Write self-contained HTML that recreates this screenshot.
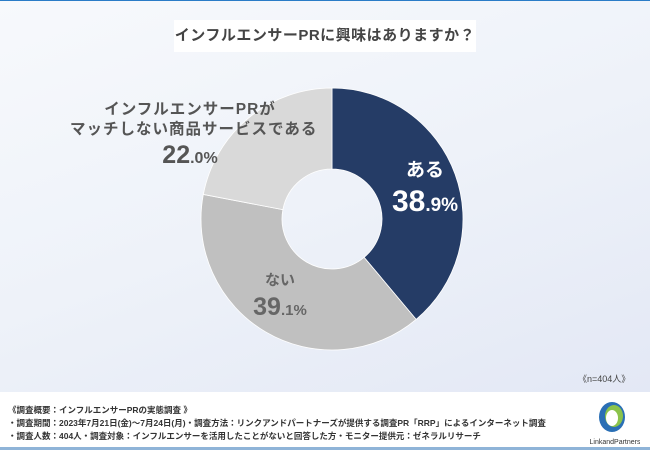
<!DOCTYPE html>
<html><head><meta charset="utf-8"><style>
html,body{margin:0;padding:0}
body{width:650px;height:450px;overflow:hidden;position:relative;font-family:"Liberation Sans","Noto Sans CJK JP",sans-serif;background:#fff}
#top{position:absolute;left:0;top:0;width:650px;height:392px;background:linear-gradient(160deg,#f7f9fc 0%,#eef2f9 50%,#e3e8f5 100%);border-top:1px solid #2a7cc7;box-sizing:border-box}
.t{position:absolute;white-space:nowrap}
</style></head><body>
<div id="top"></div>
<div class="t" style="left:174px;top:20px;width:302px;height:32px;background:#fff;text-align:center;line-height:32px;font-size:15px;font-weight:bold;color:#444;letter-spacing:0.5px">インフルエンサーPRに興味はありますか？</div>
<svg id="pie" width="650" height="450" style="position:absolute;left:0;top:0"></svg>
<div class="t" style="left:70px;top:100px;width:240px;text-align:center;font-size:15.5px;font-weight:bold;color:#555;line-height:20px;letter-spacing:1px">インフルエンサーPRが<br>マッチしない商品サービスである<br><span style="font-size:25px;line-height:30px;letter-spacing:0">22</span><span style="font-size:16px;letter-spacing:0">.0%</span></div>
<div class="t" style="left:370px;top:156px;width:110px;text-align:center;color:#fff;font-weight:bold;line-height:30px"><span style="font-size:19px">ある</span><br><span style="font-size:30px">38</span><span style="font-size:19px">.9%</span></div>
<div class="t" style="left:235px;top:268px;width:90px;text-align:center;color:#666;font-weight:bold;line-height:26px"><span style="font-size:15px">ない</span><br><span style="font-size:25px">39</span><span style="font-size:15px">.1%</span></div>
<div class="t" style="left:578px;top:372px;font-size:9px;color:#444">《n=404人》</div>
<div class="t" style="left:8px;top:404px;font-size:8.5px;color:#333;line-height:13px;font-weight:bold">《調査概要：インフルエンサーPRの実態調査 》<br>・調査期間：2023年7月21日(金)～7月24日(月)・調査方法：リンクアンドパートナーズが提供する調査PR「RRP」によるインターネット調査<br>・調査人数：404人・調査対象：インフルエンサーを活用したことがないと回答した方・モニター提供元：ゼネラルリサーチ</div>
<svg width="50" height="48" style="position:absolute;left:590px;top:400px">
<ellipse cx="22" cy="17" rx="13" ry="15" fill="#2a6fb5"/><ellipse cx="24" cy="16" rx="9" ry="11" fill="#8bc34a"/><ellipse cx="22" cy="18" rx="6" ry="8" fill="#fff"/>
<text x="25" y="44" font-size="7" text-anchor="middle" fill="#333" font-family="Liberation Sans">LinkandPartners</text></svg>
<div style="position:absolute;left:0;top:447px;width:650px;height:3px;background:#8fb4d8"></div>
<script>
const labels=["ある","ない","マッチしない"];
const values=[38.9,39.1,22.0];
const colors=["#253c66","#c0c0c0","#d9d9d9"];
const svg=document.getElementById('pie');
const cx=332,cy=219,R=131,r=50;
const total=values.reduce((a,b)=>a+b,0);
let a0=-Math.PI/2;
const pt=(a,rad)=>[cx+rad*Math.cos(a),cy+rad*Math.sin(a)];
values.forEach((v,i)=>{
 const a1=a0+v/total*2*Math.PI;
 const [x0,y0]=pt(a0,R),[x1,y1]=pt(a1,R),[x2,y2]=pt(a1,r),[x3,y3]=pt(a0,r);
 const lg=(a1-a0)>Math.PI?1:0;
 const p=document.createElementNS('http://www.w3.org/2000/svg','path');
 p.setAttribute('d',`M${x0},${y0}A${R},${R} 0 ${lg} 1 ${x1},${y1}L${x2},${y2}A${r},${r} 0 ${lg} 0 ${x3},${y3}Z`);
 p.setAttribute('fill',colors[i]);
 p.setAttribute('stroke','#fff');p.setAttribute('stroke-width','0.8');
 
 
 svg.appendChild(p);
 a0=a1;
});
</script>
</body></html>
